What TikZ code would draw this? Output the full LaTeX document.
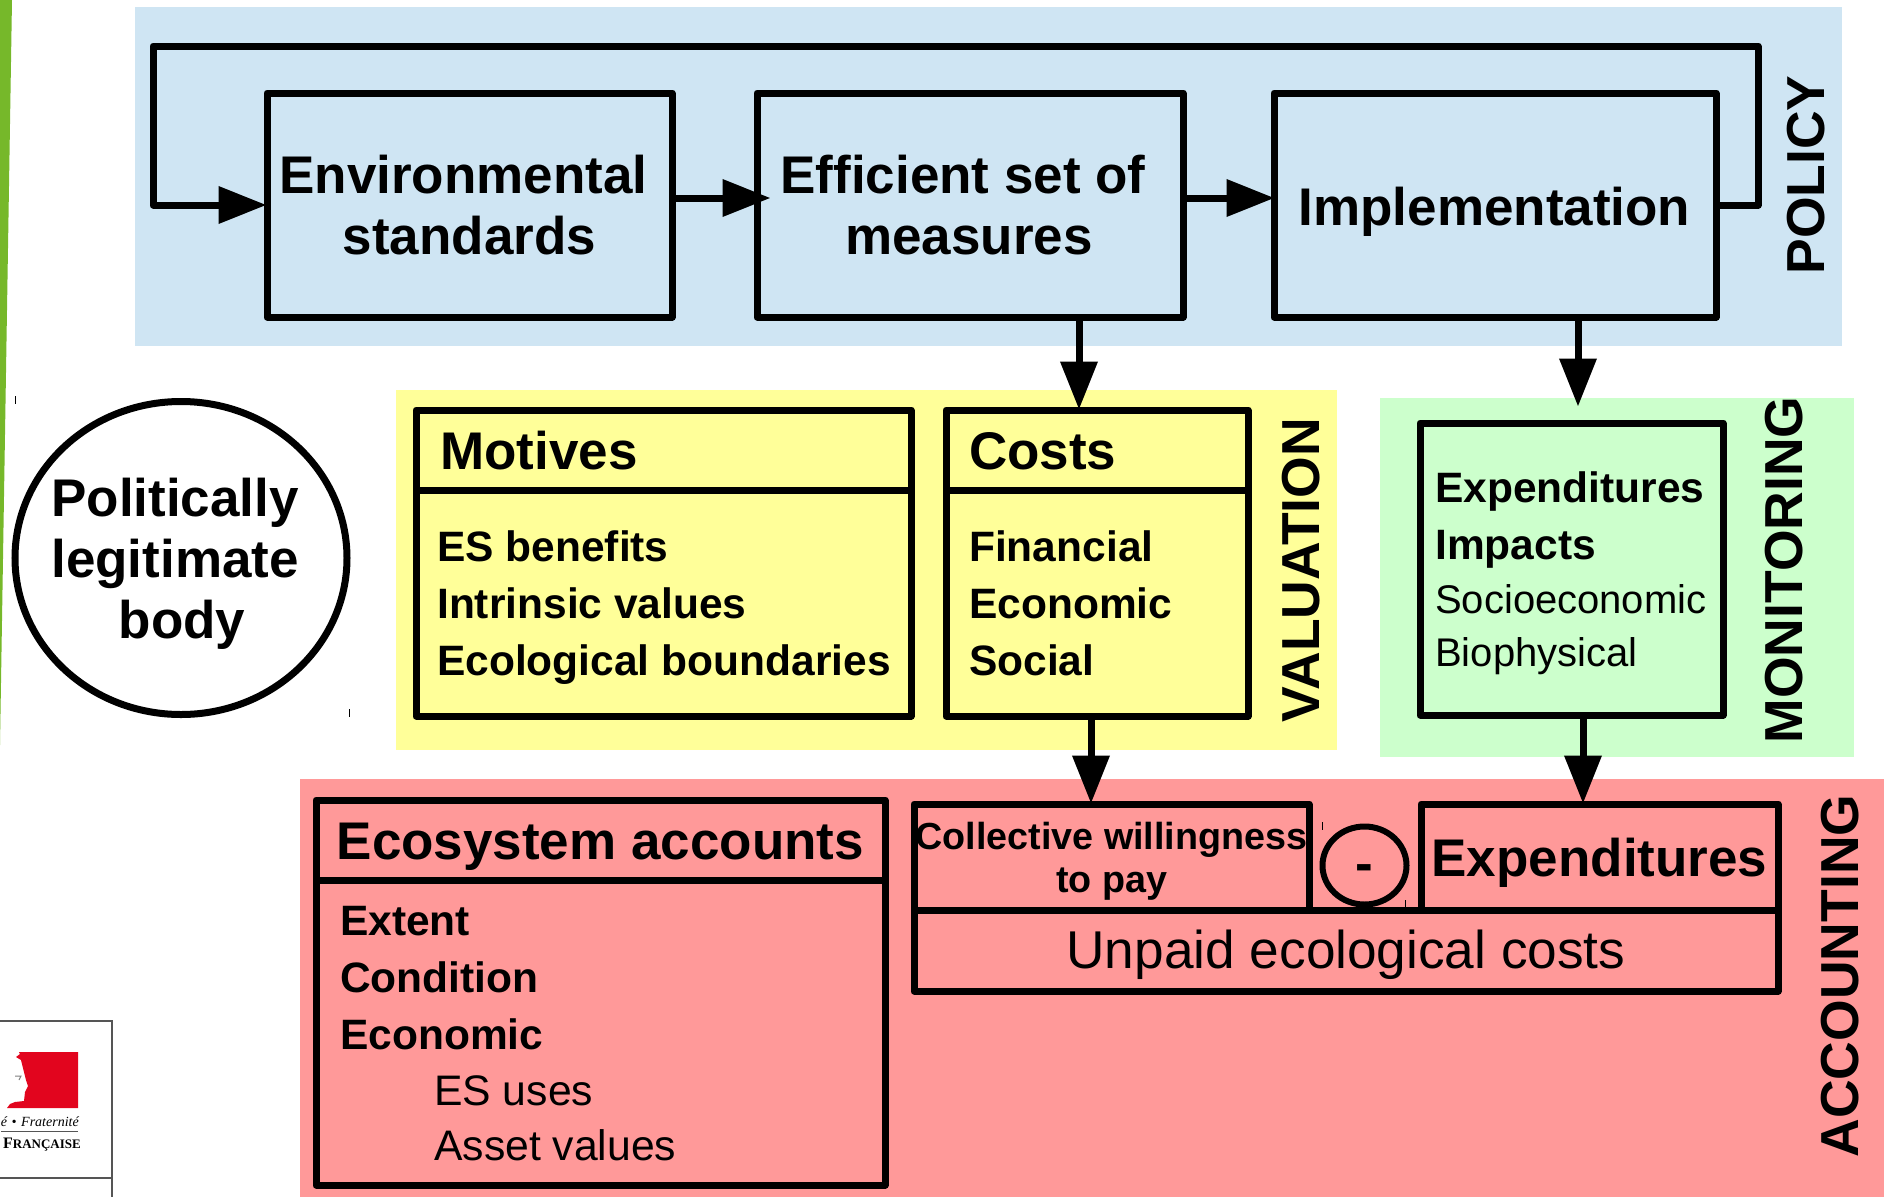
\documentclass[tikz,border=0pt]{standalone}
\usepackage{fontspec}
\setmainfont{Liberation Sans}
\newfontfamily\logofont{Liberation Serif}
\usetikzlibrary{arrows.meta,shapes.geometric}
\definecolor{policybg}{HTML}{CFE5F3}
\definecolor{valbg}{HTML}{FFFF99}
\definecolor{monbg}{HTML}{CCFFCC}
\definecolor{accbg}{HTML}{FF9999}
\definecolor{strip}{HTML}{76B82A}
\definecolor{marianne}{HTML}{E2051E}
\definecolor{logoline}{HTML}{555555}
\newcommand{\regf}[1]{\fontsize{#1}{57}\selectfont\mdseries}
\tikzset{
  boxn/.style={draw=black,line width=7pt,rectangle,inner sep=0pt,line join=round,align=center},
  bigt/.style={font=\fontsize{53}{61}\selectfont\bfseries},
  medt/.style={font=\fontsize{42.5}{57}\selectfont\bfseries},
  lbl/.style={inner sep=0pt,anchor=west,align=left},
  side/.style={inner sep=0pt,rotate=90,font=\fontsize{53.5}{60}\selectfont\bfseries},
  arr/.style={line width=7pt,line join=round,-{Triangle[length=48pt,width=36pt]}}
}
\begin{document}
\begin{tikzpicture}[x=1pt,y=-1pt]
\useasboundingbox (0,0) rectangle (1884,1197);
% left strip
\fill[strip] (0,0) -- (12,0) -- (0,745) -- cycle;
\draw[line width=1pt] (15,396) -- (15,404);
\draw[line width=1pt] (349,709) -- (349,717);
% backgrounds
\fill[policybg] (135,7) rectangle (1842,346);
\fill[valbg] (396,390) rectangle (1337,750);
\fill[monbg] (1380,398) rectangle (1854,757);
\fill[accbg] (300,779) rectangle (1884,1197);
% policy
\node[boxn,minimum width=405pt,minimum height=224pt] (env) at (469.5,205) {};
\node[boxn,minimum width=426pt,minimum height=224pt] (eff) at (970,205) {};
\node[boxn,minimum width=442pt,minimum height=224pt] (impl) at (1495,205) {};
\node[bigt,align=center,inner sep=0pt] (envt) at (469.5,205.5) {Environmental\hspace*{12pt}\\standards};
\node[bigt,align=center,inner sep=0pt] (efft) at (969,205.5) {Efficient set of\hspace*{12pt}\\measures};
\node[bigt,align=center,inner sep=0pt] (implt) at (1494.5,211.5) {Implementation};
\coordinate (fbr) at (1758,46);
\coordinate (fbl) at (153,46);
\draw[arr,shorten >=-3pt] (impl.east) -| (fbr) -- (fbl) |- (env.west);
\draw[arr,shorten >=-17pt] ([yshift=7pt]env.east) -- ([yshift=7pt]eff.west);
\draw[arr,shorten >=-4pt] ([yshift=7pt]eff.east) -- ([yshift=7pt]impl.west);
\node[side] (policy) at (1806,175) {POLICY};
% body
\node[draw=black,line width=7pt,ellipse,inner sep=0pt,minimum width=332pt,minimum height=313pt] (legit) at (181,558) {};
\node[bigt,align=center,inner sep=0pt] (legitt) at (175,564) {Politically\\legitimate\\\hspace*{14pt}body};
% valuation
\node[boxn,minimum width=495pt,minimum height=80pt] (motivesh) at (663.5,450) {};
\node[boxn,minimum width=495pt,minimum height=226pt] (motives) at (663.5,603) {};
\node[lbl,bigt] (motivest) at (440,451) {Motives};
\node[lbl,medt] (motivesl) at (437,608) {ES benefits\\Intrinsic values\\Ecological boundaries};
\node[boxn,minimum width=302pt,minimum height=80pt] (costsh) at (1097,450) {};
\node[boxn,minimum width=302pt,minimum height=226pt] (costs) at (1097,603) {};
\node[lbl,bigt] (costst) at (969,451) {Costs};
\node[lbl,medt] (costsl) at (969,603) {Financial\\Economic\\Social};
\node[side] (valuation) at (1301,570) {VALUATION};
% monitoring
\node[boxn,minimum width=303pt,minimum height=292pt] (mon) at (1571.5,569) {};
\node[lbl,medt] (monl) at (1435,573.5) {Expenditures\\Impacts\\[-3pt]\regf{40}Socioeconomic\\[-4pt]\regf{40}Biophysical};
\node[side] (monitoring) at (1784,570) {MONITORING};
% accounting
\node[boxn,minimum width=569pt,minimum height=80pt] (ecoh) at (600.5,840) {};
\node[boxn,minimum width=569pt,minimum height=305pt] (eco) at (600.5,1032.5) {};
\node[lbl,bigt] (ecot) at (336.5,847) {Ecosystem accounts};
\node[lbl,medt] (ecol) at (340,1034) {Extent\\Condition\\Economic\\[-1pt]\regf{42.7}\hspace*{94pt}ES uses\\[-2pt]\regf{42.7}\hspace*{94pt}Asset values};
\node[boxn,minimum width=395pt,minimum height=106pt] (wtp) at (1111.5,857) {};
\node[inner sep=0pt,align=center,font=\fontsize{37.7}{43}\selectfont\bfseries] (wtpt) at (1111.5,861.5) {Collective willingness\\to pay};
\node[boxn,minimum width=357pt,minimum height=106pt] (expb) at (1599.5,857) {};
\node[bigt,inner sep=0pt] (expt) at (1599.5,863) {Expenditures};
\node[boxn,minimum width=864pt,minimum height=81pt] (unpaid) at (1346,950.5) {};
\node[inner sep=0pt,font=\fontsize{53.2}{60}\selectfont] (unpaidt) at (1346,955) {Unpaid ecological costs};
\node[draw=black,line width=6pt,ellipse,inner sep=0pt,minimum width=84pt,minimum height=78pt] (minus) at (1364.5,865.5) {};
\node[bigt,inner sep=0pt] (minust) at (1364,873) {-};
\draw[line width=1pt] (1322,822) -- (1322,830);
\draw[line width=1pt] (1405,900) -- (1405,908);
\node[side] (accounting) at (1840,976) {ACCOUNTING};
% vertical connectors
\draw[arr,shorten >=-3pt] ([xshift=109pt]eff.south) -- ([xshift=-18pt]costsh.north);
\draw[arr,shorten >=13pt] ([xshift=83pt]impl.south) -- ([xshift=6.5pt]mon.north);
\draw[arr,shorten >=-3pt] ([xshift=-6pt]costs.south) -- ([xshift=-20.5pt]wtp.north);
\draw[arr,shorten >=-3pt] ([xshift=11.5pt]mon.south) -- ([xshift=-16.5pt]expb.north);
% logo
\draw[logoline,line width=1.5pt] (0,1021) -- (112,1021) -- (112,1197);
\draw[logoline,line width=1.5pt] (0,1178) -- (112,1178);
\fill[marianne] (19,1052) -- (78,1052) -- (78,1108) -- (7,1108) -- (10,1104) -- (15,1102) -- (24,1101)
  -- (25,1092) -- (28,1086) -- (26,1080) -- (23,1068) -- (21,1060) -- (16,1057) -- (20,1054) -- cycle;
\draw[gray,line width=1pt] (15,1076) -- (21,1076) -- (19,1080);
\draw[logoline,line width=.6pt] (1,1131) -- (78,1131);
\node[inner sep=0pt,anchor=east] (rf1) at (79,1122) {\logofont\itshape\fontsize{14}{16}\selectfont é\,\,•\,\,Fraternité};
\node[inner sep=0pt,anchor=east] (rf2) at (81,1145) {\logofont\bfseries\fontsize{16}{17}\selectfont F\fontsize{13}{17}\selectfont RANÇAISE};
\end{tikzpicture}
\end{document}
